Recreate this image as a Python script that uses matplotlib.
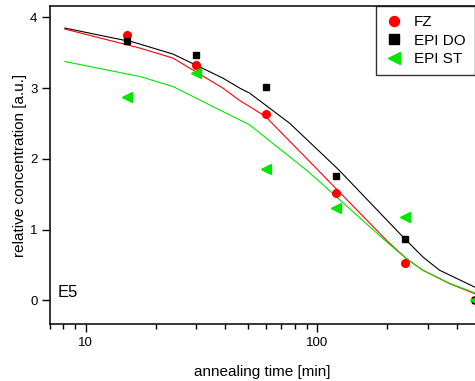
import matplotlib.pyplot as plt
from matplotlib.ticker import LogLocator, NullFormatter, FixedLocator, FixedFormatter

plt.rcParams['font.family'] = ['Liberation Sans', 'DejaVu Sans']

# measured points
t = [15, 30, 60, 120, 240, 480]
fz = [3.75, 3.33, 2.63, 1.51, 0.53, 0.0]
epi_do = [3.67, 3.46, 3.02, 1.75, 0.86, 0.0]
epi_st = [2.87, 3.21, 1.86, 1.31, 1.18, 0.0]

# fitted curves
do_t = [8.11, 16.0, 23.8, 39.1, 46.2, 51.0, 75.9, 102.3, 124.0, 234.1, 285.6, 337.2, 477.5]
do_y = [3.848, 3.650, 3.480, 3.140, 2.999, 2.928, 2.503, 2.101, 1.841, 0.897, 0.613, 0.425, 0.188]

fz_t = [8.11, 17.1, 23.8, 39.1, 46.2, 51.0, 59.8, 100.6, 198.6, 242.0, 285.6, 372.4, 477.5]
fz_y = [3.834, 3.565, 3.423, 2.999, 2.823, 2.738, 2.596, 1.841, 0.850, 0.591, 0.425, 0.236, 0.095]

st_t = [8.11, 17.1, 23.8, 39.1, 46.2, 51.0, 89.6, 102.3, 195.3, 242.0, 285.6, 372.4, 477.5]
st_y = [3.375, 3.163, 3.021, 2.667, 2.550, 2.479, 1.841, 1.676, 0.850, 0.591, 0.425, 0.240, 0.106]

red = '#ff0000'
green = '#00e600'

fig = plt.figure(figsize=(4.75, 3.81), dpi=100)
ax = fig.add_axes([0.1053, 0.1488, 0.8947, 0.8355])

ax.plot(do_t, do_y, color='black', lw=0.8)
ax.plot(fz_t, fz_y, color=red, lw=0.8)
ax.plot(st_t, st_y, color=green, lw=0.8)

ax.plot(t, fz, 'o', color=red, ms=5.5, mec=red, label='FZ', clip_on=False)
ax.plot(t, epi_do, 's', color='black', ms=5, label='EPI DO', clip_on=False)
ax.plot(t, epi_st, '<', color=green, ms=6.5, mec=green, label='EPI ST', clip_on=False)

ax.set_xscale('log')
ax.set_xlim(7.0, 480)
ax.set_ylim(-0.34, 4.16)
ax.set_yticks([0, 1, 2, 3, 4])
ax.xaxis.set_major_locator(FixedLocator([10, 100]))
ax.xaxis.set_major_formatter(FixedFormatter(['10', '100']))
ax.xaxis.set_minor_locator(LogLocator(base=10, subs=range(2, 10)))
ax.xaxis.set_minor_formatter(NullFormatter())

ax.tick_params(axis='both', which='major', direction='out', length=5.5, width=1, labelsize=9.5)
ax.tick_params(axis='x', which='minor', direction='out', length=3.5, width=1)
for s in ['left', 'bottom', 'top']:
    ax.spines[s].set_linewidth(1.1)
ax.spines['right'].set_visible(False)

ax.set_xlabel('annealing time [min]', fontsize=11, labelpad=12)
ax.set_ylabel('relative concentration [a.u.]', fontsize=11, labelpad=2)

ax.text(0.018, 0.085, 'E5', transform=ax.transAxes, fontsize=12)

leg = ax.legend(loc='upper right', fontsize=11, markerscale=1.3, frameon=True,
                fancybox=False, edgecolor='black', borderpad=0.6, labelspacing=0.3,
                handletextpad=0.7, handlelength=1.2, borderaxespad=0)
leg.get_frame().set_linewidth(1.0)

fig.savefig('out.png', dpi=100)
